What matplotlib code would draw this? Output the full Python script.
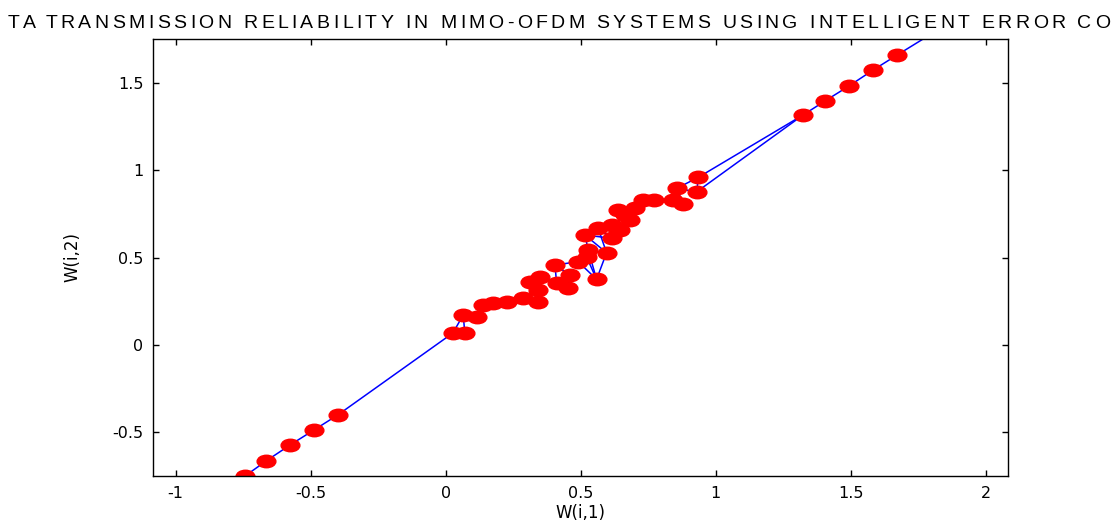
import matplotlib
matplotlib.use("Agg")
import matplotlib.pyplot as plt
from matplotlib.markers import MarkerStyle
from matplotlib.transforms import Affine2D

plt.rcParams['font.family'] = ['DejaVu Sans']
plt.rcParams['axes.unicode_minus'] = False

# SOM weight vectors, W(i,1) and W(i,2)
w1 = [-0.743, -0.665, -0.576, -0.488, -0.399,
      0.027, 0.071, 0.065, 0.115, 0.139, 0.176, 0.226, 0.287, 0.343, 0.343,
      0.312, 0.349, 0.411, 0.454, 0.460, 0.405, 0.491, 0.522, 0.528, 0.559,
      0.596, 0.516, 0.565, 0.615, 0.615, 0.646, 0.638, 0.664, 0.683, 0.701,
      0.730, 0.770, 0.843, 0.880, 0.856, 0.930, 0.936,
      1.324, 1.405, 1.494, 1.583, 1.672, 1.840]
w2 = [-0.750, -0.664, -0.572, -0.487, -0.400,
      0.069, 0.069, 0.172, 0.162, 0.229, 0.239, 0.248, 0.267, 0.248, 0.315,
      0.362, 0.391, 0.353, 0.325, 0.401, 0.458, 0.477, 0.505, 0.544, 0.376,
      0.528, 0.630, 0.668, 0.611, 0.687, 0.658, 0.773, 0.744, 0.716, 0.784,
      0.830, 0.830, 0.830, 0.807, 0.897, 0.877, 0.960,
      1.317, 1.397, 1.483, 1.574, 1.660, 1.820]

# neighbour links between units
links = [(i, i + 1) for i in range(len(w1) - 1)]
links += [(40, 42), (5, 7), (12, 14), (15, 13), (17, 20), (21, 24),
          (23, 25), (22, 24), (26, 23), (27, 25), (26, 28), (30, 33),
          (39, 41)]

x_ticks = [-1, -0.5, 0, 0.5, 1, 1.5, 2]
y_ticks = [-0.5, 0, 0.5, 1, 1.5]

fig = plt.figure(figsize=(11.16, 5.22), dpi=100)
ax = fig.add_axes([153 / 1116, 46 / 522, 855 / 1116, 437 / 522])

for a, b in links:
    ax.plot([w1[a], w1[b]], [w2[a], w2[b]], color='#0000ff', lw=1.1, zorder=1)

dot = MarkerStyle('o', transform=Affine2D().scale(1.5, 1.0))
ax.plot(w1, w2, ls='none', marker=dot, ms=9, mfc='#ff0000', mec='#ff0000', zorder=2)

ax.set_xlim(-1.084, 2.083)
ax.set_ylim(-0.750, 1.752)
ax.set_xticks(x_ticks)
ax.set_yticks(y_ticks)
ax.set_xticklabels([f'{v:g}' for v in x_ticks])
ax.set_yticklabels([f'{v:g}' for v in y_ticks])
ax.tick_params(direction='in', top=True, right=True, length=4, width=1,
               labelsize=11.5, pad=7)
for s in ax.spines.values():
    s.set_linewidth(1.0)
ax.set_xlabel('W(i,1)', fontsize=12, labelpad=2)
ax.set_ylabel('W(i,2)', fontsize=12, labelpad=22)

# page header, spread out to the width of the page
header = 'TA TRANSMISSION RELIABILITY IN MIMO-OFDM SYSTEMS USING INTELLIGENT ERROR CO'
hfont = dict(fontsize=14, family='Liberation Sans')
fig.canvas.draw()
r = fig.canvas.get_renderer()
pre = []
for i in range(len(header) + 1):
    t = fig.text(0, 0, header[:i] + '|', **hfont)
    bar = fig.text(0, 0, '|', **hfont)
    pre.append(t.get_window_extent(r).width - bar.get_window_extent(r).width)
    t.remove()
    bar.remove()
x0, x1 = 8, 1110
extra = (x1 - x0 - pre[-1]) / (len(header) - 1)
for i, ch in enumerate(header):
    if ch == ' ':
        continue
    fig.text((x0 + pre[i] + i * extra) / 1116, 1 - 28 / 522, ch,
             va='baseline', ha='left', **hfont)

fig.savefig('out.png', dpi=100)
